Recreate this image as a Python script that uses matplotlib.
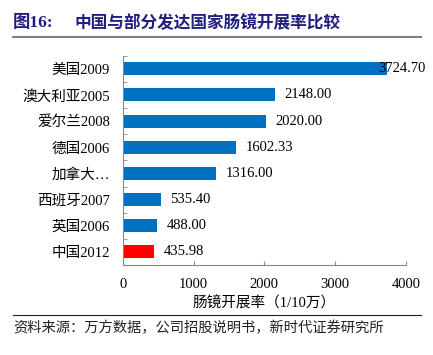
import matplotlib
matplotlib.use('Agg')
import matplotlib.pyplot as plt
import numpy as np

plt.rcParams['font.family'] = ['Liberation Serif', 'Noto Sans CJK SC', 'DejaVu Sans']

# data, top to bottom as shown
countries = ['美国2009', '澳大利亚2005', '爱尔兰2008', '德国2006', '加拿大…',
             '西班牙2007', '英国2006', '中国2012']
rates = [3724.70, 2148.00, 2020.00, 1602.33, 1316.00, 535.40, 488.00, 435.98]
bar_colors = ['#0070C0'] * 7 + ['#FF0000']
xticks = [0, 1000, 2000, 3000, 4000]

title_num = '图16:'
title_text = '中国与部分发达国家肠镜开展率比较'
x_label = '肠镜开展率（1/10万）'
source = '资料来源：万方数据，公司招股说明书，新时代证券研究所'

fig = plt.figure(figsize=(4.33, 3.55), dpi=100)
W, H = 433, 355
ax = fig.add_axes([122.7 / W, 1 - 265 / H, (406 - 122.7) / W, (265 - 55.7) / H])

y = np.arange(len(countries))[::-1]
ax.barh(y, rates, height=0.5, color=bar_colors, edgecolor='none')

for yi, v in zip(y, rates):
    off = 7 if v < 3500 else -6
    ax.annotate(f'{v:.2f}', (v, yi), xytext=(off, 0), textcoords='offset points',
                ha='left', va='center', fontsize=10.5, color='black')

ax.set_xlim(0, 4000)
ax.set_ylim(-0.5, len(countries) - 0.5)
ax.set_xticks(xticks)
ax.set_xticklabels([str(t) for t in xticks])
ax.set_yticks(y)
ax.set_yticklabels(countries)
ax.set_yticks(np.arange(len(countries) + 1) - 0.5, minor=True)

ax.tick_params(axis='x', direction='in', length=3, color='#888888', pad=9, labelsize=10.5)
ax.tick_params(axis='y', which='major', length=0, pad=9, labelsize=10.5)
ax.tick_params(axis='y', which='minor', direction='in', length=3, color='#888888')

for s in ['top', 'right']:
    ax.spines[s].set_visible(False)
for s in ['left', 'bottom']:
    ax.spines[s].set_color('#888888')
    ax.spines[s].set_linewidth(0.8)

ax.set_xlabel(x_label, fontsize=10.5, labelpad=4)

# header
navy = '#1F1F7F'
fig.text(13 / W, 1 - 23 / H, title_num, fontsize=12.5, fontweight='bold', color=navy,
         va='center', ha='left')
fig.text(75 / W, 1 - 23 / H, title_text, fontsize=12, fontweight='bold', color=navy,
         va='center', ha='left')
fig.add_artist(plt.Line2D([13 / W, 421 / W], [1 - 37 / H, 1 - 37 / H], color='#808080', lw=1.5))

# footer
fig.add_artist(plt.Line2D([13 / W, 421 / W], [1 - 315 / H, 1 - 315 / H], color='#222222', lw=0.8))
fig.text(13 / W, 1 - 328 / H, source, fontsize=10.3, color='#222222', va='center', ha='left')

fig.savefig('out.png', dpi=100)
